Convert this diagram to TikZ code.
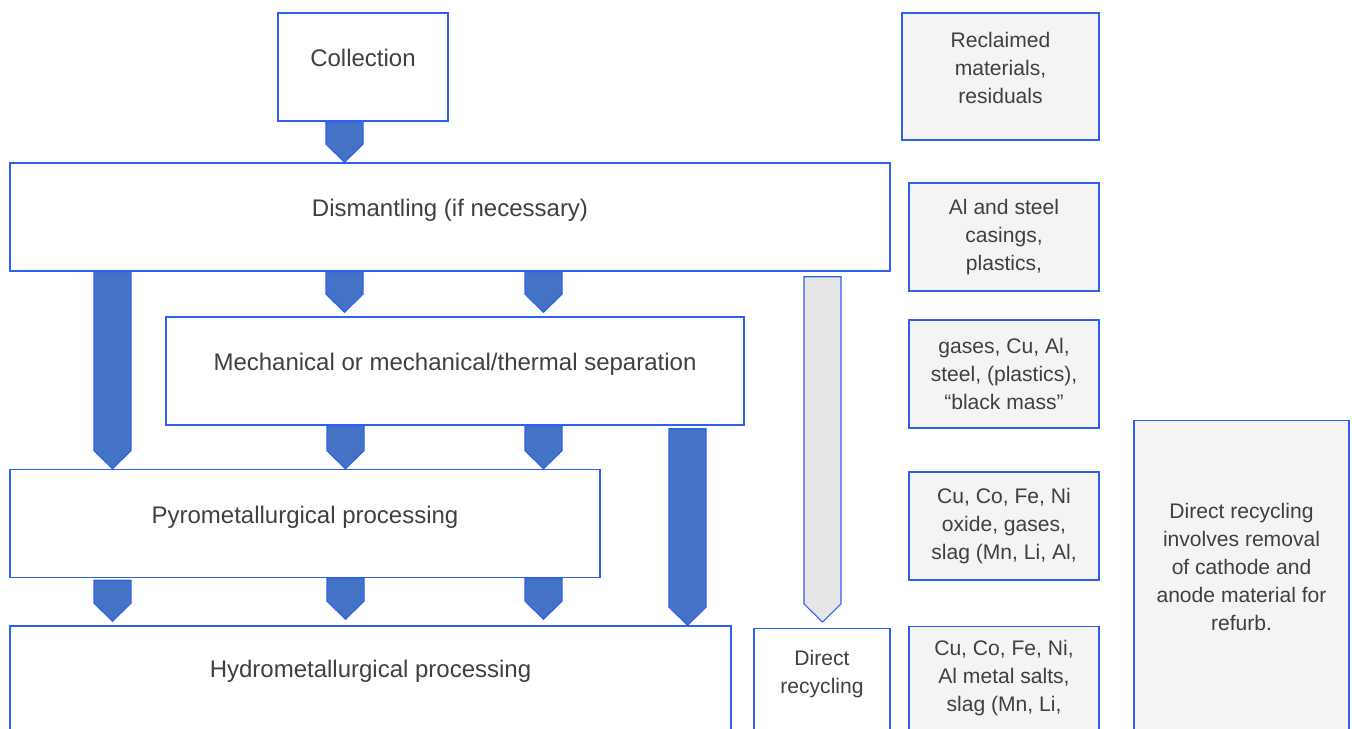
\documentclass[tikz,border=0pt]{standalone}
\usepackage{fontspec}
\setmainfont{Liberation Sans}
\usetikzlibrary{calc}
\definecolor{boxLine}{HTML}{2F5FEF}
\definecolor{arrFill}{HTML}{4472C4}
\definecolor{greyFill}{HTML}{F4F4F4}
\definecolor{arrGrey}{HTML}{E7E6E6}
\definecolor{txtGrey}{HTML}{404040}

% half width and tip height of the block arrows
\newcommand\arrhw{0.37cm}
\newcommand\arrtip{0.36cm}
% block arrow: #2 = top of the shaft, #3 = point of the tip
\newcommand\blockarrow[3][flow]{%
  \path[#1] let \p1=#2, \p2=#3 in
    (\x1-\arrhw,\y1) -- (\x1+\arrhw,\y1) -- (\x1+\arrhw,\y2+\arrtip) -- (\x1,\y2)
    -- (\x1-\arrhw,\y2+\arrtip) -- cycle;}

\begin{document}
\begin{tikzpicture}[
  x=0.02cm, y=-0.02cm,
  font=\fontsize{13.66pt}{16pt}\selectfont, text=txtGrey,
  stagebox/.style ={draw=boxLine, fill=white, line width=0.85pt,
                    text height=0.4cm, text depth=0.4cm},
  yieldbox/.style ={draw=boxLine, fill=greyFill, line width=0.85pt, minimum width=3.80cm},
  yieldtext/.style={align=center, font=\fontsize{12pt}{15.9pt}\selectfont},
  flow/.style     ={fill=arrFill, draw=boxLine, line width=0.6pt},
  flowgrey/.style ={fill=arrGrey, draw=boxLine, line width=0.6pt},
]
\useasboundingbox (0,0) rectangle (1352,729);
\clip (0,0) rectangle (1352,729);

% ---- process stages (px grid, y down)
\node[stagebox, minimum width=3.40cm, minimum height=2.16cm] (coll) at (363,67) {Collection};
\node[stagebox, minimum width=17.60cm, minimum height=2.16cm] (dism) at (450,217)
  {Dismantling (if necessary)};
\node[stagebox, minimum width=11.56cm, minimum height=2.16cm] (mech) at (455,371)
  {Mechanical or mechanical/thermal separation};
\node[stagebox, minimum width=11.80cm, minimum height=2.16cm] (pyro) at (305,523.5)
  {Pyrometallurgical processing};
% bottom row runs off the page; text held 3px above the box centre
\node[stagebox, minimum width=14.42cm, minimum height=2.16cm, text depth=0.52cm] (hydro) at (370.5,680)
  {Hydrometallurgical processing};
\node[stagebox, minimum width=2.72cm, minimum height=2.64cm, anchor=north] (direct) at (822,628) {};
\node[yieldtext] (directtxt) at (822,674) {Direct\\recycling};

% ---- what each stage gives back
\node[yieldbox, minimum width=3.94cm, minimum height=2.54cm] (recl) at (1000.5,76.5) {};
\node[yieldtext] (recltxt) at (1000.5,68) {Reclaimed\\materials,\\residuals};
\node[yieldbox, yieldtext, minimum height=2.16cm] (casing) at (1004,237)
  {Al and steel\\casings,\\plastics,};
\node[yieldbox, yieldtext, minimum height=2.16cm] (blackm) at (1004,374)
  {gases, Cu, Al,\\steel, (plastics),\\“black mass”};
\node[yieldbox, yieldtext, minimum height=2.16cm] (oxide) at (1004,526)
  {Cu, Co, Fe, Ni\\oxide, gases,\\slag (Mn, Li, Al,};
\node[yieldbox, minimum height=2.40cm, anchor=north] (salts) at (1004,626) {};
\node[yieldtext] (saltstxt) at (1004,678) {Cu, Co, Fe, Ni,\\Al metal salts,\\slag (Mn, Li,};
\node[yieldbox, minimum width=4.30cm, minimum height=7.0cm, anchor=north] (note) at (1241.5,420) {};
\node[yieldtext] (notetxt) at (1241.5,567)
  {Direct recycling\\involves removal\\of cathode and\\anode material for\\refurb.};

% ---- block arrows
\blockarrow{(coll.south -| 344.5,0)}{(dism.north -| 344.5,0)}
\blockarrow{(dism.south -| 112.5,0)}{(pyro.north -| 112.5,0)}
\blockarrow{(dism.south -| 344.5,0)}{($(mech.north -| 344.5,0)+(0,-4)$)}
\blockarrow{(dism.south -| 543.5,0)}{($(mech.north -| 543.5,0)+(0,-4)$)}
\blockarrow{(mech.south -| 345.5,0)}{(pyro.north -| 345.5,0)}
\blockarrow{(mech.south -| 543.5,0)}{(pyro.north -| 543.5,0)}
\blockarrow{($(mech.south -| 687.5,0)+(0,3)$)}{(hydro.north -| 687.5,0)}
\blockarrow[flowgrey]{($(dism.south -| 822.5,0)+(0,5)$)}{($(direct.north -| 822.5,0)+(0,-6)$)}
\blockarrow{($(pyro.south -| 112.5,0)+(0,2)$)}{($(hydro.north -| 112.5,0)+(0,-4)$)}
\blockarrow{(pyro.south -| 345.5,0)}{($(hydro.north -| 345.5,0)+(0,-6)$)}
\blockarrow{(pyro.south -| 543.5,0)}{($(hydro.north -| 543.5,0)+(0,-6)$)}

\end{tikzpicture}
\end{document}
